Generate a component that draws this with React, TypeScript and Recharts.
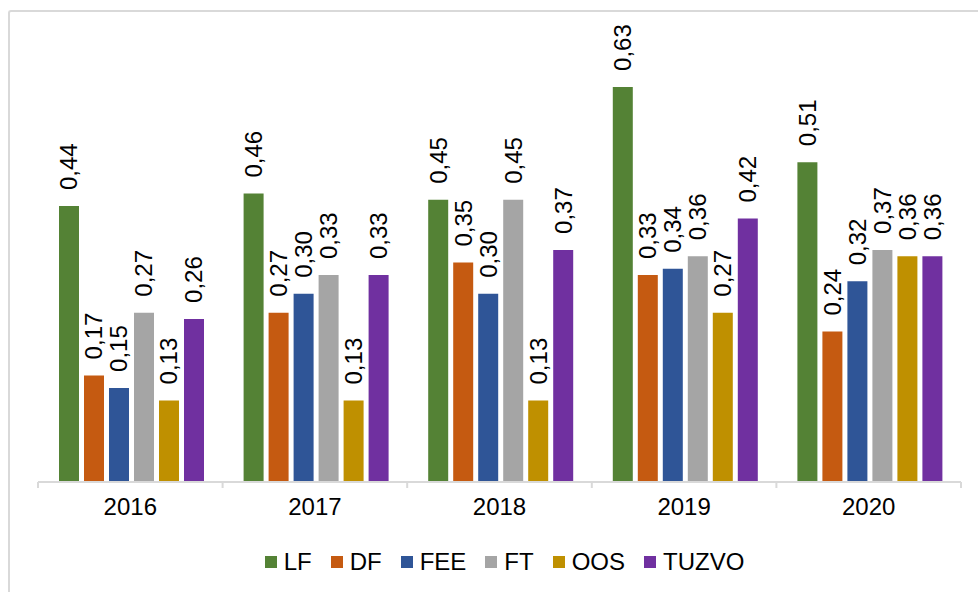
import React from 'react';
import { BarChart, Bar, XAxis, YAxis, Legend, LabelList } from 'recharts';

const years = ['2016', '2017', '2018', '2019', '2020'];
const lf = [0.44, 0.46, 0.45, 0.63, 0.51];
const df = [0.17, 0.27, 0.35, 0.33, 0.24];
const fee = [0.15, 0.30, 0.30, 0.34, 0.32];
const ft = [0.27, 0.33, 0.45, 0.36, 0.37];
const oos = [0.13, 0.13, 0.13, 0.27, 0.36];
const tuzvo = [0.26, 0.33, 0.37, 0.42, 0.36];
const seriesNames = ['LF', 'DF', 'FEE', 'FT', 'OOS', 'TUZVO'];
const seriesColors = ['#548235', '#C55A11', '#2F5597', '#A5A5A5', '#BF9000', '#7030A0'];

const seriesValues = [lf, df, fee, ft, oos, tuzvo];
const data = years.map((y, i) => {
  const row: Record<string, any> = { year: y };
  seriesNames.forEach((n, k) => {
    row[n] = seriesValues[k][i];
  });
  return row;
});

const FONT = '"Liberation Sans", Arial, sans-serif';
const W = 960;
const H = 580;
const MARGIN = { top: 31, right: 9, left: 28, bottom: 10 };
const PLOT_W = W - MARGIN.left - MARGIN.right;
const BAND = PLOT_W / years.length;
const TICK_SIZE = 6;
const TICK_MARGIN = 10;
const AXIS_COLOR = '#d9d9d9';

const CatTick = (props: any) => {
  const { x, y, payload } = props;
  const axisY = y - TICK_SIZE - TICK_MARGIN;
  const half = BAND / 2;
  const isLast = payload.value === years[years.length - 1];
  return (
    <g>
      <line x1={x - half} x2={x - half} y1={axisY} y2={axisY + TICK_SIZE} stroke={AXIS_COLOR} strokeWidth={2} />
      {isLast && (
        <line x1={x + half} x2={x + half} y1={axisY} y2={axisY + TICK_SIZE} stroke={AXIS_COLOR} strokeWidth={2} />
      )}
      <text x={x} y={y} dy="0.71em" textAnchor="middle" fontSize={24} fill="#000" fontFamily={FONT}>
        {payload.value}
      </text>
    </g>
  );
};

const fmt = (v: number) => v.toFixed(2).replace('.', ',');

const renderLabel = (props: any) => {
  const { x, y, width, value } = props;
  const cx = Number(x) + Number(width) / 2;
  const ty = Number(y) - 16;
  return (
    <text
      x={cx}
      y={ty}
      dy="0.35em"
      transform={`rotate(-90, ${cx}, ${ty})`}
      textAnchor="start"
      fontSize={24}
      fill="#000"
      fontFamily={FONT}
    >
      {fmt(Number(value))}
    </text>
  );
};

const LegendContent = () => (
  <div
    style={{
      display: 'flex',
      justifyContent: 'center',
      alignItems: 'center',
      height: 40,
      paddingLeft: 10,
      fontFamily: FONT,
      fontSize: 24,
      color: '#000',
    }}
  >
    {seriesNames.map((n, i) => (
      <div key={n} style={{ display: 'flex', alignItems: 'center', marginRight: i < seriesNames.length - 1 ? 19 : 0 }}>
        <div style={{ width: 12, height: 12, background: seriesColors[i], marginRight: 7 }} />
        <span style={{ lineHeight: '24px' }}>{n}</span>
      </div>
    ))}
  </div>
);

export default function App() {
  return (
    <div
      style={{
        position: 'absolute',
        left: 8,
        top: 10,
        width: 970,
        height: 582,
        boxSizing: 'border-box',
        borderTop: `2px solid ${AXIS_COLOR}`,
        borderLeft: `2px solid ${AXIS_COLOR}`,
        borderTopLeftRadius: 3,
        background: '#fff',
        overflow: 'hidden',
      }}
    >
      <BarChart width={W} height={H} data={data} margin={MARGIN} barCategoryGap={21} barGap={5}>
        <YAxis hide domain={[0, 0.7]} />
        <XAxis
          dataKey="year"
          tickLine={false}
          tickSize={TICK_SIZE}
          tickMargin={TICK_MARGIN}
          axisLine={{ stroke: AXIS_COLOR, strokeWidth: 2 }}
          tick={<CatTick />}
          height={60}
          interval={0}
        />
        <Legend verticalAlign="bottom" height={40} content={<LegendContent />} />
        {seriesNames.map((n, i) => (
          <Bar key={n} dataKey={n} fill={seriesColors[i]} isAnimationActive={false}>
            <LabelList dataKey={n} content={renderLabel} />
          </Bar>
        ))}
      </BarChart>
    </div>
  );
}
